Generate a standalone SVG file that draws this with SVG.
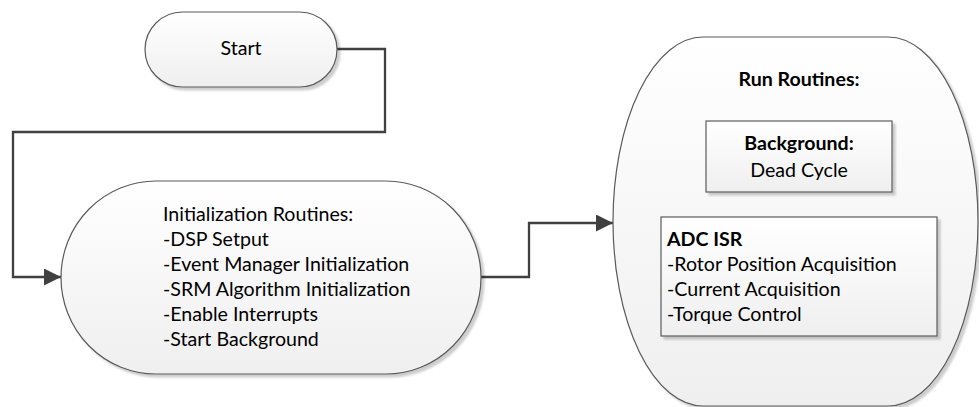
<svg xmlns="http://www.w3.org/2000/svg" width="979" height="407" viewBox="0 0 979 407">
  <style>
    .shape { fill: url(#fillGrad); stroke: #5a5a5a; stroke-width: 1.2; filter: url(#shadow); }
    .box { fill: url(#fillGrad); stroke: #5a5a5a; stroke-width: 1.2; filter: url(#shadow); }
    .txt { font-family: Lato, "Liberation Sans", sans-serif; font-size: 19.6px; fill: #000; }
    .bold { font-weight: bold; }
    .mid { text-anchor: middle; }
    .conn { fill: none; stroke: #404040; stroke-width: 2.3; }
  </style>
  <defs>
    <linearGradient id="fillGrad" x1="0" y1="0" x2="0" y2="1">
      <stop offset="0" stop-color="#ffffff"/>
      <stop offset="1" stop-color="#efefef"/>
    </linearGradient>
    <filter id="shadow" x="-5%" y="-5%" width="115%" height="115%">
      <feGaussianBlur in="SourceAlpha" stdDeviation="1.2"/>
      <feOffset dx="3" dy="3" result="off"/>
      <feComponentTransfer><feFuncA type="linear" slope="0.2"/></feComponentTransfer>
      <feMerge><feMergeNode/><feMergeNode in="SourceGraphic"/></feMerge>
    </filter>
    <marker id="arrow" markerUnits="userSpaceOnUse" markerWidth="18" markerHeight="18" refX="17" refY="8.5" orient="auto">
      <path d="M0,0 L17,8.5 L0,17 Z" fill="#404040"/>
    </marker>
  </defs>

  <!-- connectors -->
  <g id="connectors">
    <path class="conn" d="M337 49 H385 V132 H13 V277 H61" marker-end="url(#arrow)"/>
    <path class="conn" d="M481 277 H529 V223 H613" marker-end="url(#arrow)"/>
  </g>

  <!-- start terminator -->
  <g id="start">
    <rect class="shape" x="145" y="12" width="192" height="75" rx="37.5" ry="37.5"/>
    <text class="txt mid" x="241" y="55">Start</text>
  </g>

  <!-- initialization block -->
  <g id="init">
    <path class="shape" d="M156 181 H386 A95 96.5 0 0 1 481 277.5 A95 96.5 0 0 1 386 374 H156 A95 96.5 0 0 1 61 277.5 A95 96.5 0 0 1 156 181 Z"/>
    <text class="txt" x="163" y="221">Initialization Routines:</text>
    <text class="txt" x="163" y="246">-DSP Setput</text>
    <text class="txt" x="163" y="271">-Event Manager Initialization</text>
    <text class="txt" x="163" y="296">-SRM Algorithm Initialization</text>
    <text class="txt" x="163" y="321">-Enable Interrupts</text>
    <text class="txt" x="163" y="346">-Start Background</text>
  </g>

  <!-- run routines container -->
  <g id="run">
    <path class="shape" d="M703 37 H888 A90 184.5 0 0 1 978 221.5 A90 184.5 0 0 1 888 406 H703 A90 184.5 0 0 1 613 221.5 A90 184.5 0 0 1 703 37 Z"/>
    <text class="txt bold mid" x="799" y="86">Run Routines:</text>
  </g>

  <g id="background">
    <rect class="box" x="706" y="121" width="186" height="71"/>
    <text class="txt bold mid" x="799" y="150">Background:</text>
    <text class="txt mid" x="799" y="177">Dead Cycle</text>
  </g>

  <g id="adc-isr">
    <rect class="box" x="661" y="217" width="276" height="119"/>
    <text class="txt bold" x="667" y="246">ADC ISR</text>
    <text class="txt" x="667" y="271">-Rotor Position Acquisition</text>
    <text class="txt" x="667" y="296">-Current Acquisition</text>
    <text class="txt" x="667" y="321">-Torque Control</text>
  </g>
</svg>
